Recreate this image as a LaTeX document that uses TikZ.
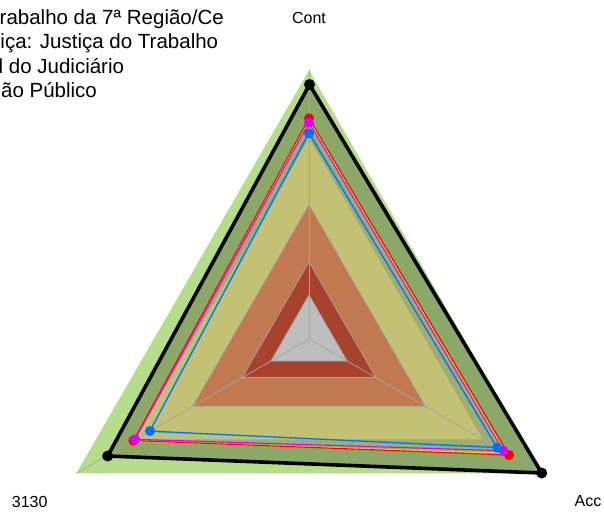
\documentclass[tikz,border=0pt]{standalone}
\usepackage{fontspec}
\setmainfont{Liberation Sans}
\definecolor{lgreen}{RGB}{182,221,139}
\definecolor{dgreen}{RGB}{139,168,104}
\definecolor{ggreen}{RGB}{163,172,112}
\definecolor{khaki}{RGB}{194,193,116}
\definecolor{orng}{RGB}{193,122,80}
\definecolor{rbrown}{RGB}{168,66,44}
\definecolor{cgrey}{RGB}{190,190,190}
\definecolor{gridgrey}{RGB}{165,165,165}
\definecolor{sred}{RGB}{255,0,0}
\definecolor{smag}{RGB}{220,0,255}
\definecolor{syel}{RGB}{230,230,0}
\definecolor{scyan}{RGB}{0,190,210}
\definecolor{sblue}{RGB}{0,110,255}
\begin{document}
\begin{tikzpicture}[x=1pt,y=-1pt,
  grid/.style={draw=gridgrey,line width=0.7pt},
  series/.style={line width=1.1pt,line join=round},
  dot/.style={circle,inner sep=0pt,minimum size=10pt},
  bdot/.style={circle,inner sep=0pt,minimum size=11pt,fill=black},
  lab/.style={font=\fontsize{16}{19}\selectfont,inner sep=0pt,anchor=base},
  leg/.style={font=\fontsize{20.5}{24}\selectfont,inner sep=0pt,anchor=base west}]
\useasboundingbox (0,0) rectangle (604,514);
\clip (0,0) rectangle (604,514);
% center and grid triangles
\coordinate (O) at (309,339);
\coordinate (A1) at (309,70.3);   \coordinate (B1) at (76.3,473.35);  \coordinate (C1) at (541.7,473.35);
\coordinate (A2) at (309,138.3);  \coordinate (B2) at (135.2,439.4);  \coordinate (C2) at (482.8,439.4);
\coordinate (A3) at (309,204.65); \coordinate (B3) at (192.65,406.2); \coordinate (C3) at (425.35,406.2);
\coordinate (A4) at (309,261.9);  \coordinate (B4) at (242.2,377.55); \coordinate (C4) at (375.8,377.55);
\coordinate (A5) at (309,295);    \coordinate (B5) at (270.9,361);    \coordinate (C5) at (347.1,361);
% series vertices
\coordinate (k1) at (309.5,84.5); \coordinate (k2) at (107.7,456);   \coordinate (k3) at (541.7,473);
\coordinate (r1) at (309,118.3);  \coordinate (r2) at (133.3,440.6); \coordinate (r3) at (509,455);
\coordinate (y1) at (309,120.5);  \coordinate (y2) at (132.5,441.2); \coordinate (y3) at (506,453.5);
\coordinate (m1) at (309,122.7);  \coordinate (m2) at (135,439.3);   \coordinate (m3) at (503.3,450.7);
\coordinate (c1) at (309,131.5);  \coordinate (c2) at (149.5,431.5); \coordinate (c3) at (496,446.8);
\coordinate (u1) at (309,133.3);  \coordinate (u2) at (150,431);     \coordinate (u3) at (497.3,447.7);
% fills
\fill[lgreen] (A1) -- (B1) -- (C1) -- cycle;
\fill[dgreen] (k1) -- (k2) -- (k3) -- cycle;
\fill[ggreen] (r1) -- (r2) -- (r3) -- cycle;
\fill[khaki] (A2) -- (B2) -- (C2) -- cycle;
\fill[orng] (A3) -- (B3) -- (C3) -- cycle;
\fill[rbrown] (A4) -- (B4) -- (C4) -- cycle;
\fill[cgrey] (A5) -- (B5) -- (C5) -- cycle;
% grid lines
\draw[grid] (A3) -- (B3) -- (C3) -- cycle;
\draw[grid] (A4) -- (B4) -- (C4) -- cycle;
\draw[grid] (A5) -- (B5) -- (C5) -- cycle;
\draw[grid] (O) -- (A1);
\draw[grid] (O) -- (B1);
\draw[grid] (O) -- (C1);
% series lines
\draw[series,syel] (y1) -- (y2) -- (y3) -- cycle;
\draw[series,sred] (r1) -- (r2) -- (r3) -- cycle;
\draw[series,smag] (m1) -- (m2) -- (m3) -- cycle;
\draw[series,scyan] (c1) -- (c2) -- (c3) -- cycle;
\draw[series,sblue] (u1) -- (u2) -- (u3) -- cycle;
\draw[line width=3.6pt,line join=round] (k1) -- (k2) -- (k3) -- cycle;
% dots
\node[dot,fill=sred] (dr1) at (r1) {};
\node[dot,fill=sred] (dr2) at (r2) {};
\node[dot,fill=sred] (dr3) at (r3) {};
\node[dot,fill=smag] (dm1) at (m1) {};
\node[dot,fill=smag] (dm2) at (m2) {};
\node[dot,fill=smag] (dm3) at (m3) {};
\node[dot,fill=sblue] (du1) at (u1) {};
\node[dot,fill=sblue] (du2) at (u2) {};
\node[dot,fill=sblue] (du3) at (u3) {};
\node[bdot] (dk1) at (k1) {};
\node[bdot] (dk2) at (k2) {};
\node[bdot] (dk3) at (k3) {};
% axis labels
\node[lab] (lcont) at (309,23) {Cont};
\node[lab] (l3130) at (29.7,507) {3130};
\node[lab] (lacc) at (588,506.5) {Acc};
% legend text (cut at left edge)
\node[leg] (t1) at (-0.5,24.5) {rabalho da 7ª Região/Ce};
\node[leg] (t2) at (0.3,48.9) {iça: Justiça do Trabalho};
\node[leg] (t3) at (-1.5,73.3) {l do Judiciário};
\node[leg] (t4) at (1,97.7) {ão Público};
\end{tikzpicture}
\end{document}
